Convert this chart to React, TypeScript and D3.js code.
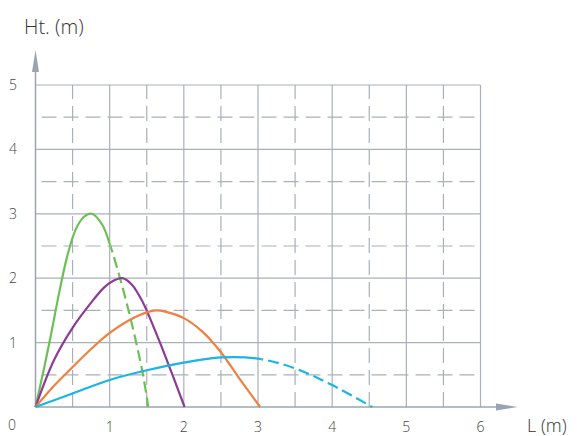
import React, { useRef, useEffect } from "react";
import * as d3 from "d3";

// readings: [L (m), Ht. (m)]
const greenPts: [number, number][] = [
  [0, 0], [0.1, 0.52], [0.2, 1.07], [0.32, 1.78], [0.43, 2.35], [0.54, 2.75],
  [0.65, 2.95], [0.76, 3.0], [0.9, 2.83], [1.01, 2.5], [1.12, 2.08], [1.23, 1.61],
  [1.34, 1.09], [1.45, 0.5], [1.52, 0],
];
const purplePts: [number, number][] = [
  [0, 0], [0.25, 0.73], [0.5, 1.23], [0.75, 1.62], [0.92, 1.85], [1.05, 1.96],
  [1.17, 2.0], [1.3, 1.9], [1.45, 1.62], [1.6, 1.22], [1.75, 0.79], [2.01, 0],
];
const orangePts: [number, number][] = [
  [0, 0], [0.25, 0.33], [0.5, 0.62], [0.75, 0.9], [1.0, 1.15], [1.25, 1.34],
  [1.5, 1.47], [1.63, 1.5], [1.75, 1.48], [2.0, 1.38], [2.25, 1.17], [2.5, 0.85],
  [2.75, 0.44], [3.03, 0],
];
const bluePts: [number, number][] = [
  [0, 0], [0.5, 0.21], [1, 0.42], [1.5, 0.57], [2, 0.69], [2.5, 0.77],
  [3, 0.75], [3.5, 0.6], [4, 0.34], [4.54, 0],
];

const seriesNames = ["green", "purple", "orange", "blue"];
const seriesData = [greenPts, purplePts, orangePts, bluePts];
const seriesColors = ["#6cbf55", "#8c3b97", "#f0803f", "#1ab4e6"];
// where a curve turns dashed (L value), null = never
const dashFrom: (number | null)[] = [1.01, null, null, 3.05];

const xTicks = [1, 2, 3, 4, 5, 6];
const yTicks = [1, 2, 3, 4, 5];
const halfX = [0.5, 1.5, 2.5, 3.5, 4.5, 5.5];
const halfY = [0.5, 1.5, 2.5, 3.5, 4.5];

const W = 578, H = 436;

const App: React.FC = () => {
  const ref = useRef<SVGSVGElement>(null);

  useEffect(() => {
    document.body.style.margin = "0";
    const svg = d3.select(ref.current);
    svg.selectAll("*").remove();

    const x = d3.scaleLinear().domain([0, 6]).range([35.5, 480.5]);
    const y = d3.scaleLinear().domain([0, 5]).range([407, 85]);

    const gridCol = "#a9b0ba";
    const axisCol = "#9aa4b0";
    const font = "'Open Sans', 'Noto Sans', sans-serif";

    const grid = svg.append("g");
    // dashed half lines
    grid.selectAll(".hx").data(halfX).enter().append("line")
      .attr("x1", (d) => x(d)).attr("x2", (d) => x(d))
      .attr("y1", y(0)).attr("y2", y(5))
      .attr("stroke", gridCol).attr("stroke-width", 1.2)
      .attr("stroke-dasharray", "15 7");
    grid.selectAll(".hy").data(halfY).enter().append("line")
      .attr("x1", x(0)).attr("x2", x(6))
      .attr("y1", (d) => y(d)).attr("y2", (d) => y(d))
      .attr("stroke", gridCol).attr("stroke-width", 1.2)
      .attr("stroke-dasharray", "15 7").attr("stroke-dashoffset", -6);
    // solid integer lines
    grid.selectAll(".vx").data(xTicks).enter().append("line")
      .attr("x1", (d) => x(d)).attr("x2", (d) => x(d))
      .attr("y1", y(0)).attr("y2", y(5))
      .attr("stroke", gridCol).attr("stroke-width", 1.2);
    grid.selectAll(".vy").data(yTicks).enter().append("line")
      .attr("x1", x(0)).attr("x2", x(6))
      .attr("y1", (d) => y(d)).attr("y2", (d) => y(d))
      .attr("stroke", gridCol).attr("stroke-width", 1.2);

    // axes with arrows
    svg.append("line").attr("x1", x(0)).attr("x2", x(0))
      .attr("y1", y(0)).attr("y2", 66)
      .attr("stroke", axisCol).attr("stroke-width", 1.5);
    svg.append("path").attr("d", `M${x(0)},50 L${x(0) - 3.5},72 L${x(0) + 3.5},72 Z`)
      .attr("fill", axisCol);
    svg.append("line").attr("x1", x(0)).attr("x2", 505)
      .attr("y1", y(0)).attr("y2", y(0))
      .attr("stroke", axisCol).attr("stroke-width", 1.5);
    svg.append("path").attr("d", `M518,${y(0)} L496,${y(0) - 3.5} L496,${y(0) + 3.5} Z`)
      .attr("fill", axisCol);

    // curves
    const line = d3.line<[number, number]>()
      .x((d) => x(d[0])).y((d) => y(d[1]))
      .curve(d3.curveCatmullRom.alpha(0.5));

    const defs = svg.append("defs");
    seriesData.forEach((pts, i) => {
      const from = dashFrom[i];
      const g = svg.append("g");
      if (from === null) {
        g.append("path").attr("d", line(pts)).attr("fill", "none")
          .attr("stroke", seriesColors[i]).attr("stroke-width", 2.2);
        return;
      }
      const idS = `clip-${seriesNames[i]}-s`, idD = `clip-${seriesNames[i]}-d`;
      defs.append("clipPath").attr("id", idS).append("rect")
        .attr("x", 0).attr("y", 0).attr("width", x(from)).attr("height", H);
      defs.append("clipPath").attr("id", idD).append("rect")
        .attr("x", x(from)).attr("y", 0).attr("width", W - x(from)).attr("height", H);
      g.append("path").attr("d", line(pts)).attr("fill", "none")
        .attr("stroke", seriesColors[i]).attr("stroke-width", 2.2)
        .attr("clip-path", `url(#${idS})`);
      g.append("path").attr("d", line(pts)).attr("fill", "none")
        .attr("stroke", seriesColors[i]).attr("stroke-width", 2.2)
        .attr("stroke-dasharray", "11 5")
        .attr("clip-path", `url(#${idD})`);
    });

    // tick labels
    const txt = svg.append("g").attr("font-family", font).attr("font-weight", 300)
      .attr("fill", "#444").attr("font-size", 14);
    txt.selectAll(".yl").data(yTicks).enter().append("text")
      .attr("x", 13).attr("y", (d) => y(d)).attr("dy", "0.35em")
      .attr("text-anchor", "middle").text((d) => d);
    txt.selectAll(".xl").data(xTicks).enter().append("text")
      .attr("x", (d) => x(d)).attr("y", 427).attr("dy", "0.35em")
      .attr("text-anchor", "middle").text((d) => d);
    txt.append("text").attr("x", 12).attr("y", 425).attr("dy", "0.35em")
      .attr("text-anchor", "middle").text("0");

    svg.append("text").attr("x", 24).attr("y", 27).attr("dy", "0.35em")
      .attr("font-family", font).attr("font-weight", 300).attr("font-size", 20)
      .attr("fill", "#333").text("Ht. (m)");
    svg.append("text").attr("x", 527).attr("y", 426).attr("dy", "0.35em")
      .attr("font-family", font).attr("font-weight", 300).attr("font-size", 18)
      .attr("fill", "#333").text("L (m)");
  }, []);

  return <svg ref={ref} width={W} height={H} style={{ display: "block" }} />;
};

export default App;
